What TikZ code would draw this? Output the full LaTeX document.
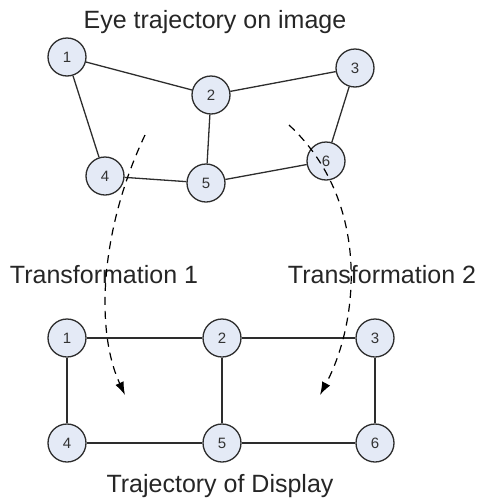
\documentclass[tikz,border=0pt]{standalone}
\usepackage{fontspec}
\setmainfont{Liberation Sans}
\usetikzlibrary{arrows.meta}
\definecolor{nodefill}{RGB}{228,234,246}
\definecolor{linegray}{RGB}{45,45,45}
\tikzset{
  pt/.style={circle,draw=linegray,fill=nodefill,line width=1.3pt,minimum size=38pt,inner sep=0pt,font=\fontsize{15}{16}\selectfont,text=black!80},
  edge/.style={draw=linegray,line width=1.3pt},
  trans/.style={draw=black,line width=1.2pt,dash pattern=on 8pt off 6pt,-{Latex[length=13pt,width=9pt]}},
  lbl/.style={font=\fontsize{25}{28}\selectfont,text=black!85}
}
\begin{document}
\begin{tikzpicture}[x=1pt,y=-1pt]
\useasboundingbox (0,0) rectangle (480,504);
% titles
\node[lbl] (t1) at (215,22) {Eye trajectory on image};
\node[lbl] (t2) at (220,486) {Trajectory of Display};
\node[lbl] (tr1) at (104,275) {Transformation 1};
\node[lbl] (tr2) at (382,275) {Transformation 2};
% top graph
\node[pt] (a1) at (67,57) {1};
\node[pt] (a2) at (211,95) {2};
\node[pt] (a3) at (355,68) {3};
\node[pt] (a4) at (105,176) {4};
\node[pt] (a5) at (206,183) {5};
\node[pt] (a6) at (326,161) {6};
\draw[edge] (a1) -- (a2);
\draw[edge] (a2) -- (a3);
\draw[edge] (a1) -- (a4);
\draw[edge] (a2) -- (a5);
\draw[edge] (a3) -- (a6);
\draw[edge] (a4) -- (a5);
\draw[edge] (a5) -- (a6);
% bottom graph
\node[pt] (b1) at (67,338) {1};
\node[pt] (b2) at (222,338) {2};
\node[pt] (b3) at (375,338) {3};
\node[pt] (b4) at (67,443) {4};
\node[pt] (b5) at (222,443) {5};
\node[pt] (b6) at (375,443) {6};
\draw[edge] (b1) -- (b2);
\draw[edge] (b2) -- (b3);
\draw[edge] (b1) -- (b4);
\draw[edge] (b2) -- (b5);
\draw[edge] (b3) -- (b6);
\draw[edge] (b4) -- (b5);
\draw[edge] (b5) -- (b6);
% transformation arrows
\coordinate (s1) at (145,135);
\coordinate (e1) at (125,395);
\coordinate (s2) at (289,125);
\coordinate (e2) at (320,395);
\draw[trans] (s1) .. controls (100,230) and (95,330) .. (e1);
\draw[trans] (s2) .. controls (370,200) and (360,320) .. (e2);
\end{tikzpicture}
\end{document}
